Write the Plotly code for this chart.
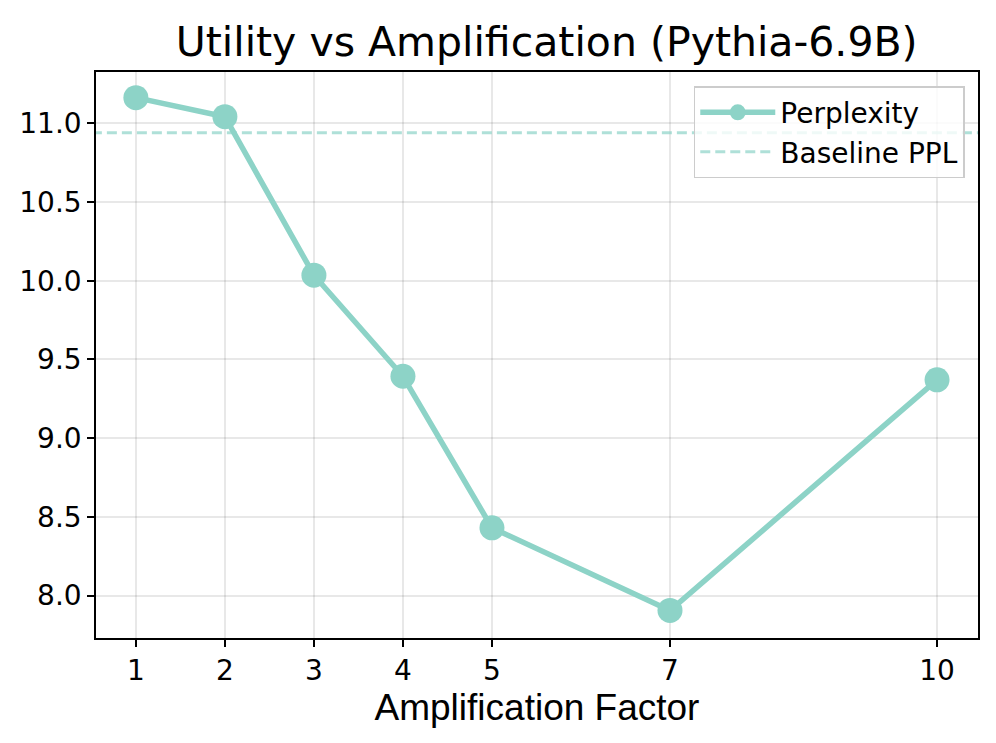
import plotly.graph_objects as go

factors = [1, 2, 3, 4, 5, 7, 10]
perplexity = [11.163, 11.042, 10.035, 9.393, 8.43, 7.905, 9.37]
baseline_ppl = 10.94
yticks = [8.0, 8.5, 9.0, 9.5, 10.0, 10.5, 11.0]

color = "#8dd3c7"
fig = go.Figure()
fig.add_trace(go.Scatter(
    x=[0.0, 11.5], y=[baseline_ppl, baseline_ppl], mode="lines",
    line=dict(color="rgba(141,211,199,0.7)", width=3, dash="10px,5px"),
    name="Baseline PPL"))
fig.add_trace(go.Scatter(
    x=factors, y=perplexity, mode="lines+markers",
    line=dict(color=color, width=5.5),
    marker=dict(color=color, size=25),
    name="Perplexity"))

fig.update_layout(
    width=996, height=743,
    margin=dict(l=88, r=26, t=64, b=113),
    paper_bgcolor="white", plot_bgcolor="white",
    title=dict(text="Utility vs Amplification (Pythia-6.9B)", xref="paper", x=0.511, xanchor="center",
               y=0.955, yanchor="middle",
               font=dict(family="DejaVu Sans", size=41, color="black")),
    legend=dict(x=0.985, y=0.975, xanchor="right", yanchor="top",
                traceorder="reversed", itemwidth=75,
                bgcolor="rgba(255,255,255,0.8)", bordercolor="#cccccc", borderwidth=1.5,
                font=dict(family="DejaVu Sans", size=28, color="black")),
    showlegend=True,
)
fig.update_xaxes(
    range=[0.552, 10.46], tickvals=factors, ticktext=[str(f) for f in factors],
    showgrid=True, gridcolor="rgba(0,0,0,0.09)", gridwidth=1.5,
    showline=True, linecolor="black", linewidth=1.6, mirror=True,
    ticks="outside", ticklen=7, tickwidth=1.6, tickcolor="black",
    tickfont=dict(family="DejaVu Sans", size=28, color="black"),
    title=dict(text="Amplification Factor", font=dict(family="Liberation Sans, Arial", size=37, color="black"), standoff=4),
    zeroline=False)
fig.update_yaxes(
    range=[7.73, 11.326], tickvals=yticks, ticktext=[f"{v:.1f}" for v in yticks],
    showgrid=True, gridcolor="rgba(0,0,0,0.09)", gridwidth=1.5,
    showline=True, linecolor="black", linewidth=1.6, mirror=True,
    ticks="outside", ticklen=7, tickwidth=1.6, tickcolor="black",
    tickfont=dict(family="DejaVu Sans", size=28, color="black"),
    zeroline=False)

fig.write_html("out.html")
